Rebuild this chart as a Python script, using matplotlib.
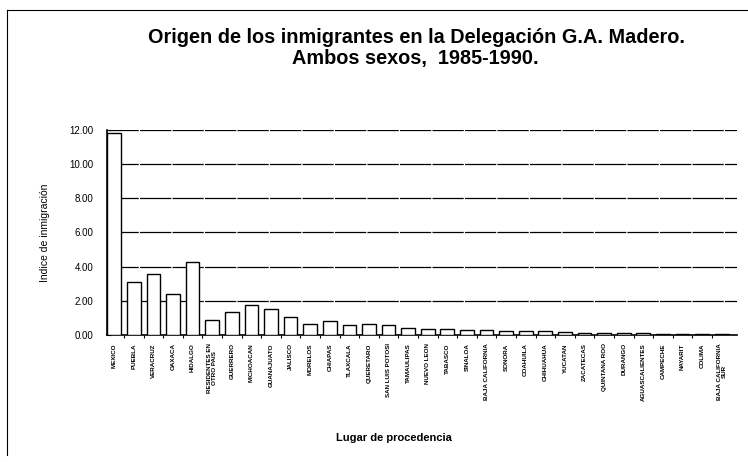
import matplotlib
matplotlib.use("Agg")
import matplotlib.pyplot as plt
from matplotlib.lines import Line2D

plt.rcParams["font.family"] = ["Liberation Sans", "DejaVu Sans"]

lugares = [
    "MEXICO", "PUEBLA", "VERACRUZ", "OAXACA", "HIDALGO",
    "RESIDENTES EN\nOTRO PAIS", "GUERRERO", "MICHOACAN", "GUANAJUATO",
    "JALISCO", "MORELOS", "CHIAPAS", "TLAXCALA", "QUERETARO",
    "SAN LUIS POTOSI", "TAMAULIPAS", "NUEVO LEON", "TABASCO", "SINALOA",
    "BAJA CALIFORNIA", "SONORA", "COAHUILA", "CHIHUAHUA", "YUCATAN",
    "ZACATECAS", "QUINTANA ROO", "DURANGO", "AGUASCALIENTES", "CAMPECHE",
    "NAYARIT", "COLIMA", "BAJA CALIFORNIA\nSUR",
]
indice = [
    11.80, 3.09, 3.58, 2.42, 4.25,
    0.89, 1.35, 1.74, 1.51,
    1.06, 0.64, 0.83, 0.58, 0.62,
    0.57, 0.38, 0.36, 0.33, 0.30,
    0.30, 0.26, 0.23, 0.22, 0.16,
    0.13, 0.12, 0.11, 0.10, 0.06,
    0.05, 0.05, 0.05,
]
yticks = [0, 2, 4, 6, 8, 10, 12]

fig = plt.figure(figsize=(7.48, 4.62), dpi=100)
ax = fig.add_axes([0.143, 0.275, 0.842, 0.444])

x = range(len(lugares))
ax.bar(x, indice, width=0.7, color="white", edgecolor="black", linewidth=1.0, zorder=3)

# grid lines look almost solid in the scan
for y in yticks[1:]:
    ax.axhline(y, color="black", linewidth=0.9, linestyle=(0, (25, 1)), zorder=1)

ax.set_xlim(-0.37, 31.77)
ax.set_ylim(0, 12)
ax.set_yticks(yticks)
ax.set_yticklabels([f"{v:.2f}" for v in yticks], fontsize=7)
ax.tick_params(axis="y", direction="in", length=3, width=0.8, pad=10)

ax.set_xticks([i + 0.5 for i in x][:-1], minor=True)
ax.set_xticks(list(x))
ax.set_xticklabels(lugares, rotation=90, fontsize=4.5, fontweight="bold",
                   va="top", ha="center", linespacing=1.0)
ax.tick_params(axis="x", which="major", length=0, pad=6)
ax.tick_params(axis="x", which="minor", direction="out", length=2.5, width=0.8)

ax.spines["top"].set_visible(False)
ax.spines["right"].set_visible(False)
ax.spines["left"].set_linewidth(1.2)
ax.spines["bottom"].set_linewidth(1.2)

ax.set_ylabel("Indice de inmigración", fontsize=7.5, labelpad=14)
ax.set_xlabel("Lugar de procedencia", fontsize=8, fontweight="bold")
ax.xaxis.set_label_coords(0.455, -0.48)

fig.text(0.557, 0.918, "Origen de los inmigrantes en la Delegación G.A. Madero.",
         ha="center", va="center", fontsize=14.3, fontweight="bold")
fig.text(0.555, 0.874, "Ambos sexos,  1985-1990.",
         ha="center", va="center", fontsize=14.3, fontweight="bold")

# scanned page frame
fig.add_artist(Line2D([0.009, 1.0], [0.978, 0.978], color="black", linewidth=0.8,
                      transform=fig.transFigure))
fig.add_artist(Line2D([0.009, 0.009], [0.978, 0.015], color="black", linewidth=0.8,
                      transform=fig.transFigure))

fig.savefig("out.png", dpi=100)
